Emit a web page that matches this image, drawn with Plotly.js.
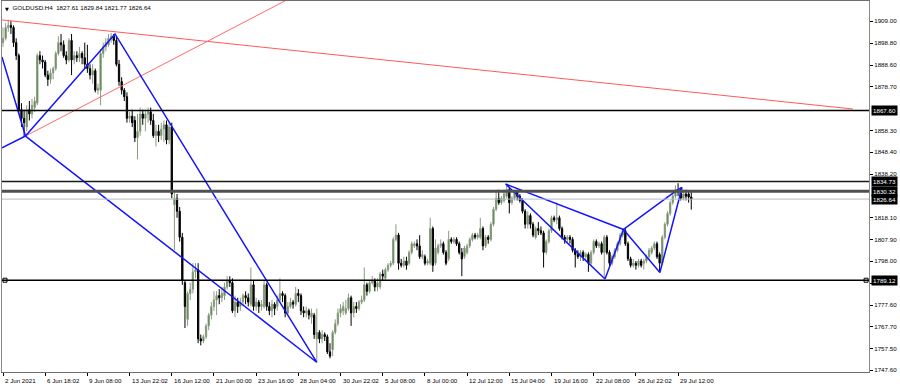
<!DOCTYPE html>
<html>
<head>
<meta charset="utf-8">
<script src="https://cdn.plot.ly/plotly-3.0.1.min.js"></script>
<style>html,body{margin:0;padding:0;background:#fff;}#chart{width:900px;height:386px;}</style>
</head>
<body>
<div id="chart"></div>
<script>
// ---- Candles (H4 bars, index 0 = 2 Jun 2021 00:00) ----
const openP = [
1899,1901,1906,1907,1906,1899,1893,1868,1864,1860,
1868,1866,1869,1871,1893,1891,1890,1884,1882,1885,
1887,1894,1899,1898,1893,1891,1900,1891,1893,1892,
1894,1892,1889,1887,1884,1886,1877,1877,1894,1897,
1898,1901,1902,1900,1889,1881,1877,1874,1864,1865,
1863,1855,1858,1866,1864,1866,1867,1863,1856,1858,
1856,1859,1861,1854,1860,1824,1827,1821,1809,1788,
1771,1783,1785,1793,1794,1762,1761,1763,1768,1773,
1777,1780,1782,1781,1782,1786,1789,1788,1775,1779,
1777,1779,1782,1781,1778,1787,1777,1779,1777,1777,
1787,1777,1775,1778,1777,1780,1783,1782,1774,1777,
1779,1778,1783,1782,1775,1774,1775,1772,1773,1762,
1765,1762,1764,1763,1756,1757,1765,1769,1774,1775,
1774,1776,1781,1774,1777,1776,1779,1780,1787,1784,
1788,1789,1786,1786,1792,1790,1794,1796,1797,1808,
1810,1797,1796,1798,1797,1802,1805,1806,1805,1800,
1800,1797,1797,1813,1797,1802,1805,1806,1802,1799,
1808,1807,1808,1806,1802,1800,1802,1805,1808,1810,
1809,1809,1813,1805,1809,1808,1815,1822,1827,1825,
1826,1828,1831,1825,1827,1830,1828,1826,1821,1815,
1819,1815,1809,1813,1812,1811,1802,1807,1812,1818,
1817,1818,1813,1809,1808,1809,1808,1803,1801,1800,
1802,1800,1801,1797,1802,1807,1805,1806,1802,1809,
1802,1797,1800,1803,1806,1810,1812,1806,1799,1796,
1797,1796,1798,1797,1798,1800,1802,1804,1806,1801,
1797,1809,1815,1820,1825,1828,1831,1831,1827,1829,
1829,1827.61];
const highP = [
1906,1908,1909.5,1909,1907,1901,1894,1871,1868,1870,
1872,1873,1874,1894,1895,1893,1891,1886,1887,1888,
1895,1902,1903,1900,1895,1901,1903,1895,1895,1897,
1895,1899,1898,1889,1889,1887,1880,1896,1899,1901,
1903,1903.5,1903,1902,1891,1883,1878,1876,1867,1868,
1865,1866,1869,1868,1868,1869,1869,1866,1861,1861,
1862,1863,1863,1862,1862,1830,1829,1823,1811,1789,
1784,1788,1797,1797,1797,1764,1764,1769,1774,1779,
1784,1784,1785,1786,1788,1791,1791,1790,1782,1781,
1781,1783,1784,1783,1795,1789,1781,1780,1780,1789,
1788,1779,1780,1779,1782,1790,1784,1783,1779,1781,
1780,1786,1785,1783,1777,1777,1776,1776,1774,1776,
1766,1766,1765,1764,1760,1766,1771,1776,1778,1779,
1780,1783,1782,1779,1779,1780,1782,1795,1788,1789,
1791,1790,1790,1793,1794,1795,1797,1798,1809,1815,
1811,1799,1800,1800,1803,1807,1807,1808,1810,1803,
1801,1799,1818,1814,1808,1806,1808,1807,1803,1812,
1809,1809,1809,1807,1804,1805,1806,1809,1811,1811,
1811,1818,1814,1810,1810,1816,1823,1831,1831,1828,
1831,1833,1832,1828,1831,1831,1829,1827,1822,1821,
1820,1816,1814,1816,1814,1812,1808,1813,1819,1819,
1825,1819,1814,1810,1810,1810,1809,1804,1803,1803,
1803,1802,1802,1803,1808,1808,1807,1807,1810,1810,
1803,1801,1804,1807,1811,1813,1813,1807,1800,1799,
1798,1799,1799,1799,1801,1804,1805,1807,1807,1802,
1810,1816,1821,1826,1830,1833,1834,1832,1831,1831,
1830,1829.84];
const lowP = [
1897,1900,1904,1903,1897,1891,1866,1860,1855.5,1858,
1863,1864,1867,1870,1889,1887,1883,1879,1880,1882,
1886,1893,1895,1892,1889,1890,1884,1889,1890,1890,
1889,1887,1885,1882,1880,1876,1875,1870,1892,1895,
1897,1899,1898,1888,1879,1875,1872,1862,1862,1860,
1853,1845,1856,1861,1858,1862,1861,1855,1851,1853,
1854,1853,1852,1852,1827,1803,1818,1807,1787,1767,
1768,1780,1783,1790,1760,1759,1760,1762,1766,1771,
1775,1773,1778,1779,1780,1785,1786,1774,1772,1774,
1775,1777,1778,1777,1777,1775,1775,1774,1775,1776,
1775,1773,1772,1773,1775,1779,1779,1772,1773,1776,
1776,1777,1779,1773,1772,1772,1771,1769,1762,1751,
1760,1760,1761,1755,1753,1754,1764,1768,1772,1773,
1773,1775,1768,1772,1774,1775,1778,1779,1782,1783,
1787,1784,1784,1785,1789,1789,1793,1795,1796,1807,
1794,1795,1795,1794,1796,1801,1804,1803,1799,1799,
1796,1796,1796,1793,1796,1801,1804,1801,1796,1798,
1806,1806,1805,1801,1791,1799,1801,1804,1807,1808,
1808,1808,1803,1804,1806,1807,1814,1821,1824,1824,
1825,1827,1820,1824,1826,1826,1825,1820,1813,1813,
1813,1809,1808,1810,1810,1795,1801,1806,1811,1816,
1815,1812,1808,1806,1806,1806,1802,1795,1799,1798,
1798,1798,1793,1796,1801,1804,1804,1801,1790,1801,
1795,1796,1799,1802,1805,1809,1805,1798,1795,1795,
1794,1795,1795,1794,1797,1799,1801,1803,1799,1793,
1796,1808,1814,1819,1824,1827,1828,1826,1826,1826,
1825,1821.77];
const closeP = [
1901,1906,1907,1906,1899,1893,1868,1864,1862,1868,
1866,1870,1872,1893,1891,1890,1884,1882,1885,1887,
1894,1899,1898,1893,1891,1900,1891,1893,1892,1894,
1892,1889,1887,1884,1886,1877,1878,1894,1897,1899,
1901,1902,1900,1889,1881,1877,1874,1864,1865,1862,
1855,1858,1866,1864,1866,1867,1863,1856,1858,1856,
1859,1861,1854,1860,1829,1827,1821,1809,1789,1777,
1783,1785,1793,1794,1762,1761,1763,1768,1773,1777,
1780,1782,1781,1783,1786,1789,1788,1775,1779,1777,
1779,1782,1781,1779,1787,1777,1779,1777,1778,1787,
1777,1775,1778,1776,1780,1783,1782,1774,1777,1779,
1778,1783,1782,1775,1774,1775,1773,1774,1764,1765,
1762,1764,1763,1756,1754,1765,1769,1774,1776,1777,
1776,1781,1774,1777,1776,1779,1780,1787,1784,1788,
1789,1786,1788,1792,1791,1794,1796,1797,1808,1810,
1797,1796,1798,1796,1802,1806,1806,1805,1800,1801,
1797,1798,1813,1796,1804,1805,1806,1802,1797,1808,
1807,1808,1806,1802,1799,1804,1805,1808,1810,1809,
1810,1813,1805,1809,1808,1815,1822,1827,1825,1827,
1829,1831,1825,1827,1830,1828,1826,1821,1815,1819,
1815,1810,1813,1812,1811,1802,1807,1812,1818,1817,
1818,1813,1809,1808,1809,1808,1803,1801,1800,1802,
1800,1801,1797,1802,1807,1805,1806,1802,1809,1802,
1797,1800,1803,1806,1810,1812,1806,1799,1796,1797,
1796,1798,1796,1798,1800,1803,1804,1806,1800,1797,
1809,1815,1820,1825,1828,1831,1830,1827,1829,1828,
1827.6,1826.64];

// ---- Time axis labels (bar index -> label) ----
const tickBars = [0,16,32,48,64,80,96,112,128,144,160,176,192,208,224,240,256];
const tickLabels = ["2 Jun 2021","6 Jun 18:02","9 Jun 08:00","13 Jun 22:02","16 Jun 12:00","21 Jun 00:00","23 Jun 16:00","28 Jun 04:00","30 Jun 22:02","5 Jul 08:00","8 Jul 00:00","12 Jul 12:00","15 Jul 04:00","19 Jul 16:00","22 Jul 08:00","26 Jul 22:02","29 Jul 12:00"];

// ---- Price axis labels ----
const priceTicks = [1909.00,1898.80,1888.60,1878.70,1858.30,1848.40,1838.20,1818.10,1807.90,1798.00,1787.80,1777.60,1767.70,1757.50,1747.60];

// ---- Horizontal levels ----
const levels = [1867.60, 1834.73, 1830.32, 1826.64, 1789.12];

// ---- Drawn trend lines (bar index, price) ----
const blueLeftX = [-0.4, 8.53, 42.47, 118.96, 8.53];
const blueLeftY = [1892.35, 1855.8, 1903.0, 1751.2, 1855.8];
const blueLeft2X = [-0.4, 8.53];
const blueLeft2Y = [1850.3, 1855.8];
const blueRightAX = [228.3, 190.6, 235.3, 228.3];
const blueRightAY = [1789.7, 1833.6, 1812.6, 1789.7];
const blueRightBX = [235.3, 249.1, 257.5, 255.6, 235.3];
const blueRightBY = [1812.6, 1792.7, 1832.0, 1830.8, 1812.6];
const redSteepX = [8.53, 112.6];
const redSteepY = [1855.8, 1921.9];
const redLongX = [-0.4, 322.3];
const redLongY = [1909.5, 1868.3];
const endMarkX = [0.76, 327.3];
const endMarkY = [1789.12, 1789.12];

const barIndex = closeP.map((_, i) => i);

const FONT = 'Liberation Sans, Arial, sans-serif';
const FS = 6.2;

function lineTrace(x, y, color, width) {
  return {type:'scatter', mode:'lines', x:x, y:y, line:{color:color, width:width}, hoverinfo:'skip', showlegend:false};
}

const traces = [
  {
    type:'candlestick', x:barIndex, open:openP, high:highP, low:lowP, close:closeP,
    increasing:{line:{color:'#8c9a84', width:1}, fillcolor:'#2f8a10'},
    decreasing:{line:{color:'#000000', width:1}, fillcolor:'#000000'},
    whiskerwidth:0, hoverinfo:'skip', showlegend:false
  },
  lineTrace(redLongX, redLongY, '#ff5a5a', 1),
  lineTrace(redSteepX, redSteepY, '#ff6a6a', 1),
  lineTrace(blueLeftX, blueLeftY, '#1414ff', 1.5),
  lineTrace(blueLeft2X, blueLeft2Y, '#1414ff', 1.5),
  lineTrace(blueRightAX, blueRightAY, '#1414ff', 1.5),
  lineTrace(blueRightBX, blueRightBY, '#1414ff', 1.5),
  {type:'scatter', mode:'markers', x:endMarkX, y:endMarkY, marker:{symbol:'square-open', size:4, color:'#000', line:{width:1}}, hoverinfo:'skip', showlegend:false, cliponaxis:false}
];

const levelStyle = [
  {color:'#000000', width:1.5},
  {color:'#1a1a1a', width:1.5},
  {color:'#505050', width:3},
  {color:'#b4bcc4', width:1},
  {color:'#000000', width:1.5}
];

const shapes = levels.map((v, i) => ({
  type:'line', xref:'paper', x0:0, x1:1, yref:'y', y0:v, y1:v,
  line:{color:levelStyle[i].color, width:levelStyle[i].width}, layer:'above'
}));

const annotations = [];
tickBars.forEach((b, i) => {
  annotations.push({
    x:b, xref:'x', y:0, yref:'paper', yanchor:'top', xanchor:'left', yshift:-3, xshift:0,
    text:tickLabels[i], showarrow:false, font:{family:FONT, size:FS, color:'#000'}
  });
});
levels.forEach(v => {
  annotations.push({
    x:1, xref:'paper', y:v, yref:'y', xanchor:'left', yanchor:'middle', xshift:2,
    text:v.toFixed(2), showarrow:false, bgcolor:'#000', borderpad:1,
    font:{family:FONT, size:FS, color:'#fff'}
  });
});
annotations.push({
  x:5/900, xref:'paper', y:1, yref:'paper', yanchor:'top', xanchor:'center', yshift:-3,
  text:'\u25BC', showarrow:false, font:{family:'DejaVu Sans', size:5, color:'#000'}
});

const layout = {
  width:900, height:386,
  margin:{l:2, r:31, t:1, b:14, pad:0},
  paper_bgcolor:'#ffffff', plot_bgcolor:'#ffffff',
  showlegend:false,
  font:{family:FONT, size:FS, color:'#000'},
  title:{text:'GOLDUSD.H4\u00a0\u00a01827.61 1829.84 1821.77 1826.64', xref:'container', yref:'container',
         x:12.5/900, xanchor:'left', y:1-7.5/386, yanchor:'middle', font:{family:FONT, size:FS, color:'#000'}},
  xaxis:{
    type:'linear', range:[-0.38, 328.4], autorange:false, fixedrange:true,
    tickmode:'array', tickvals:tickBars, showticklabels:false,
    ticks:'outside', ticklen:3, tickcolor:'#000', tickwidth:1,
    showgrid:false, zeroline:false, showline:true, linecolor:'#6e6e6e', linewidth:1, mirror:true,
    rangeslider:{visible:false}, automargin:false
  },
  yaxis:{
    type:'linear', range:[1746.68, 1918.25], autorange:false, fixedrange:true, side:'right',
    tickmode:'array', tickvals:priceTicks, ticktext:priceTicks.map(v => v.toFixed(2)),
    ticks:'outside', ticklen:3, tickcolor:'#000', tickwidth:1,
    tickfont:{family:FONT, size:FS, color:'#000'},
    showgrid:false, zeroline:false, showline:true, linecolor:'#8a8a8a', linewidth:1, mirror:true,
    automargin:false
  },
  shapes:shapes,
  annotations:annotations
};

Plotly.newPlot('chart', traces, layout, {staticPlot:true, displayModeBar:false});
</script>
</body>
</html>
